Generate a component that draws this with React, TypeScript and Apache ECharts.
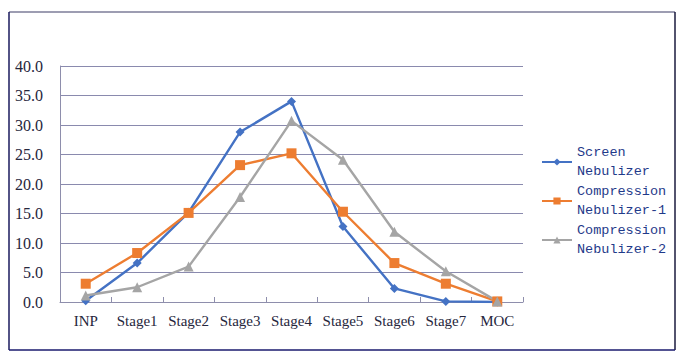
import React, { useEffect, useRef } from "react";
import * as echarts from "echarts";

const categories = ["INP", "Stage1", "Stage2", "Stage3", "Stage4", "Stage5", "Stage6", "Stage7", "MOC"];
const screenNebulizer = [0.2, 6.6, 15.2, 28.8, 34.0, 12.8, 2.3, 0.1, 0.0];
const compression1 = [3.1, 8.3, 15.1, 23.2, 25.2, 15.3, 6.6, 3.1, 0.1];
const compression2 = [1.1, 2.5, 6.0, 17.8, 30.7, 24.1, 11.9, 5.2, 0.1];
const yTicks = { min: 0, max: 40, interval: 5 };
const seriesNames = ["Screen\nNebulizer", "Compression\nNebulizer-1", "Compression\nNebulizer-2"];

export default function App() {
  const ref = useRef<HTMLDivElement>(null);
  useEffect(() => {
    document.body.style.margin = "0";
    const chart = echarts.init(ref.current!, undefined, { renderer: "svg" });
    const axisColor = "#8e8eac";
    chart.setOption({
      animation: false,
      backgroundColor: "#ffffff",
      grid: { left: 60, right: 166, top: 66, bottom: 61 },
      xAxis: {
        type: "category",
        data: categories,
        boundaryGap: true,
        axisLine: { lineStyle: { color: axisColor, width: 1 } },
        axisTick: { show: true, inside: true, length: 5, lineStyle: { color: axisColor } },
        axisLabel: { interval: 0, hideOverlap: false, color: "#26263c", fontFamily: "Liberation Serif", fontSize: 15, margin: 11 },
      },
      yAxis: {
        type: "value",
        min: yTicks.min,
        max: yTicks.max,
        interval: yTicks.interval,
        axisLine: { show: true, lineStyle: { color: axisColor } },
        axisTick: { show: false },
        splitLine: { lineStyle: { color: "#8a8aae", width: 1 } },
        axisLabel: {
          color: "#26263c",
          fontFamily: "Liberation Serif",
          fontSize: 16,
          margin: 17,
          formatter: (v: number) => v.toFixed(1),
        },
      },
      legend: {
        orient: "vertical",
        left: 536,
        top: 138,
        itemWidth: 30,
        itemHeight: 9,
        itemGap: 1,
        textStyle: { fontFamily: "Liberation Mono", fontSize: 13.5, color: "#1f3a8a", lineHeight: 19 },
        data: seriesNames,
      },
      series: [
        {
          name: seriesNames[0],
          type: "line",
          data: screenNebulizer,
          symbol: "diamond",
          symbolSize: 9,
          lineStyle: { color: "#4472C4", width: 2.4 },
          itemStyle: { color: "#4472C4" },
        },
        {
          name: seriesNames[1],
          type: "line",
          data: compression1,
          symbol: "rect",
          symbolSize: 10,
          lineStyle: { color: "#ED7D31", width: 2.4 },
          itemStyle: { color: "#ED7D31" },
        },
        {
          name: seriesNames[2],
          type: "line",
          data: compression2,
          symbol: "triangle",
          symbolSize: 10,
          lineStyle: { color: "#A5A5A5", width: 2.4 },
          itemStyle: { color: "#A5A5A5" },
        },
      ],
      graphic: [
        { type: "line", shape: { x1: 9, y1: 12, x2: 675, y2: 12 }, style: { stroke: "#7c7c98", lineWidth: 1.5 } },
        { type: "line", shape: { x1: 9, y1: 12, x2: 9, y2: 350 }, style: { stroke: "#1a1a5e", lineWidth: 1.5 } },
        { type: "line", shape: { x1: 675, y1: 12, x2: 675, y2: 350 }, style: { stroke: "#1a1a3e", lineWidth: 1.5 } },
        { type: "line", shape: { x1: 9, y1: 350, x2: 675, y2: 350 }, style: { stroke: "#1a1a6e", lineWidth: 1.5 } },
      ],
    });
    return () => chart.dispose();
  }, []);
  return <div ref={ref} style={{ width: 689, height: 363 }} />;
}
